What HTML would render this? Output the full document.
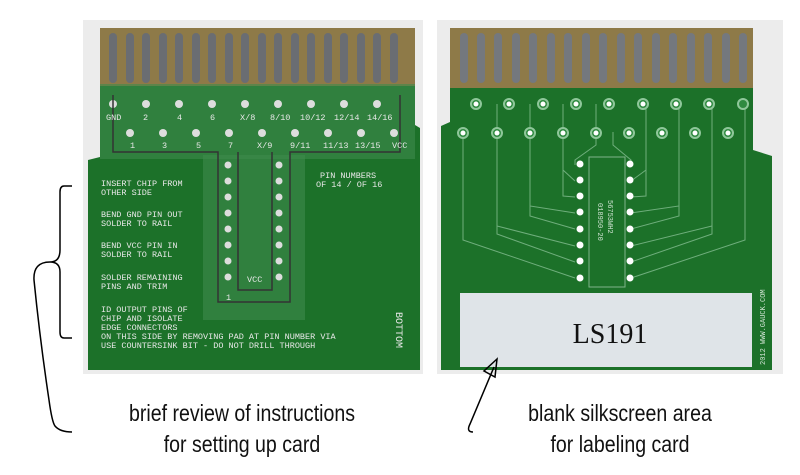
<!DOCTYPE html>
<html><head><style>
body{margin:0;width:800px;height:475px;background:#fff;position:relative;overflow:hidden;font-family:"Liberation Sans",sans-serif}
.t{position:absolute;color:#111;font-size:23px;text-align:center;transform:scaleX(0.85);transform-origin:center}
</style></head><body>
<svg width="800" height="475" style="position:absolute;left:0;top:0" font-family="Liberation Mono, monospace">
<rect x="83" y="20" width="340" height="354" fill="#ececec"/>
<rect x="437" y="20" width="346" height="354" fill="#ececec"/>
<!-- left board -->
<path d="M100 28 H415 V125 L420 128 V370 H88 V160 L100 157 Z" fill="#1c7129"/>
<rect x="100" y="28" width="315" height="58" fill="#8e7a48"/>
<rect x="100" y="84" width="315" height="75" fill="#3d8a4c" opacity="0.6"/>
<rect x="203" y="155" width="102" height="165" fill="#3d8a4c" opacity="0.6"/>
<g fill="#6a6d72">
<rect x="109" y="33" width="8" height="50" rx="4"/><rect x="126" y="33" width="8" height="50" rx="4"/><rect x="142" y="33" width="8" height="50" rx="4"/><rect x="159" y="33" width="8" height="50" rx="4"/><rect x="175" y="33" width="8" height="50" rx="4"/><rect x="192" y="33" width="8" height="50" rx="4"/><rect x="208" y="33" width="8" height="50" rx="4"/><rect x="225" y="33" width="8" height="50" rx="4"/><rect x="241" y="33" width="8" height="50" rx="4"/><rect x="258" y="33" width="8" height="50" rx="4"/><rect x="274" y="33" width="8" height="50" rx="4"/><rect x="291" y="33" width="8" height="50" rx="4"/><rect x="307" y="33" width="8" height="50" rx="4"/><rect x="324" y="33" width="8" height="50" rx="4"/><rect x="340" y="33" width="8" height="50" rx="4"/><rect x="357" y="33" width="8" height="50" rx="4"/><rect x="373" y="33" width="8" height="50" rx="4"/><rect x="390" y="33" width="8" height="50" rx="4"/>
</g>
<g fill="#ddd"><circle cx="113" cy="104" r="4"/><circle cx="146" cy="104" r="4"/><circle cx="179" cy="104" r="4"/><circle cx="212" cy="104" r="4"/><circle cx="245" cy="104" r="4"/><circle cx="278" cy="104" r="4"/><circle cx="311" cy="104" r="4"/><circle cx="344" cy="104" r="4"/><circle cx="377" cy="104" r="4"/>
<circle cx="130" cy="133" r="4"/><circle cx="163" cy="133" r="4"/><circle cx="196" cy="133" r="4"/><circle cx="229" cy="133" r="4"/><circle cx="262" cy="133" r="4"/><circle cx="295" cy="133" r="4"/><circle cx="328" cy="133" r="4"/><circle cx="361" cy="133" r="4"/><circle cx="394" cy="133" r="4"/>
<circle cx="228" cy="165" r="3.5"/><circle cx="228" cy="181" r="3.5"/><circle cx="228" cy="197" r="3.5"/><circle cx="228" cy="213" r="3.5"/><circle cx="228" cy="229" r="3.5"/><circle cx="228" cy="245" r="3.5"/><circle cx="228" cy="261" r="3.5"/><circle cx="228" cy="277" r="3.5"/>
<circle cx="279" cy="165" r="3.5"/><circle cx="279" cy="181" r="3.5"/><circle cx="279" cy="197" r="3.5"/><circle cx="279" cy="213" r="3.5"/><circle cx="279" cy="229" r="3.5"/><circle cx="279" cy="245" r="3.5"/><circle cx="279" cy="261" r="3.5"/><circle cx="279" cy="277" r="3.5"/></g>
<path d="M113 95 V152 H218 V302 H290 V152 H400 V95" fill="none" stroke="#333" stroke-width="1.5"/>
<path d="M238 152 V290 H272 V152" fill="none" stroke="#333" stroke-width="1.5"/>
<g fill="#e8e8e8" font-size="8.5">
<text x="106" y="120">GND</text><text x="143" y="120">2</text><text x="177" y="120">4</text><text x="210" y="120">6</text><text x="240" y="120">X/8</text><text x="270" y="120">8/10</text><text x="300" y="120">10/12</text><text x="334" y="120">12/14</text><text x="367" y="120">14/16</text>
<text x="130" y="148">1</text><text x="162" y="148">3</text><text x="196" y="148">5</text><text x="228" y="148">7</text><text x="257" y="148">X/9</text><text x="290" y="148">9/11</text><text x="323" y="148">11/13</text><text x="355" y="148">13/15</text><text x="392" y="148">VCC</text>
<text x="101" y="186">INSERT CHIP FROM</text><text x="101" y="195">OTHER SIDE</text>
<text x="101" y="217">BEND GND PIN OUT</text><text x="101" y="226">SOLDER TO RAIL</text>
<text x="101" y="248">BEND VCC PIN IN</text><text x="101" y="257">SOLDER TO RAIL</text>
<text x="101" y="280">SOLDER REMAINING</text><text x="101" y="289">PINS AND TRIM</text>
<text x="101" y="312">ID OUTPUT PINS OF</text><text x="101" y="321">CHIP AND ISOLATE</text><text x="101" y="330">EDGE CONNECTORS</text>
<text x="101" y="339">ON THIS SIDE BY REMOVING PAD AT PIN NUMBER VIA</text><text x="101" y="348">USE COUNTERSINK BIT - DO NOT DRILL THROUGH</text>
<text x="320" y="178">PIN NUMBERS</text><text x="316" y="187">OF 14 / OF 16</text>
<text x="247" y="282">VCC</text><text x="226" y="300">1</text>
<text transform="translate(396,312) rotate(90)" font-size="10">BOTTOM</text>
</g>
<!-- right board -->
<path d="M450 28 H753 V150 L772 156 V370 H441 V126 L450 122 Z" fill="#1c7129"/>
<rect x="450" y="28" width="303" height="60" fill="#8e7a48"/>
<g fill="#74787e">
<rect x="460" y="33" width="8" height="50" rx="4"/><rect x="477" y="33" width="8" height="50" rx="4"/><rect x="494" y="33" width="8" height="50" rx="4"/><rect x="512" y="33" width="8" height="50" rx="4"/><rect x="529" y="33" width="8" height="50" rx="4"/><rect x="547" y="33" width="8" height="50" rx="4"/><rect x="564" y="33" width="8" height="50" rx="4"/><rect x="582" y="33" width="8" height="50" rx="4"/><rect x="599" y="33" width="8" height="50" rx="4"/><rect x="617" y="33" width="8" height="50" rx="4"/><rect x="634" y="33" width="8" height="50" rx="4"/><rect x="652" y="33" width="8" height="50" rx="4"/><rect x="669" y="33" width="8" height="50" rx="4"/><rect x="687" y="33" width="8" height="50" rx="4"/><rect x="704" y="33" width="8" height="50" rx="4"/><rect x="722" y="33" width="8" height="50" rx="4"/><rect x="739" y="33" width="8" height="50" rx="4"/>
</g>
<rect x="589" y="157" width="36" height="130" fill="none" stroke="#7fb48a" stroke-width="1"/>
<g fill="none" stroke="#6fae7c" stroke-width="1">
<path d="M463 132 V240 L575 278"/><path d="M497 104 V234 L575 262"/><path d="M497 132 V226 L575 246"/><path d="M530 104 V216 L575 229"/><path d="M530 132 V206 L575 213"/><path d="M563 104 V196 L575 197"/><path d="M563 132 V170 L575 181"/><path d="M596 104 V145 L575 160 V165"/>
<path d="M745 104 V240 L631 278"/><path d="M712 132 V234 L631 262"/><path d="M712 104 V226 L631 246"/><path d="M679 132 V216 L631 229"/><path d="M679 104 V206 L631 213"/><path d="M646 132 V196 L631 197"/><path d="M646 104 V170 L631 181"/><path d="M613 132 V145 L631 160 V165"/>
</g>
<g fill="#2f8a40" stroke="#8fc79a" stroke-width="2"><circle cx="476" cy="104" r="5"/><circle cx="509" cy="104" r="5"/><circle cx="543" cy="104" r="5"/><circle cx="576" cy="104" r="5"/><circle cx="609" cy="104" r="5"/><circle cx="643" cy="104" r="5"/><circle cx="676" cy="104" r="5"/><circle cx="709" cy="104" r="5"/><circle cx="743" cy="104" r="5"/>
<circle cx="463" cy="133" r="5"/><circle cx="497" cy="133" r="5"/><circle cx="530" cy="133" r="5"/><circle cx="563" cy="133" r="5"/><circle cx="596" cy="133" r="5"/><circle cx="629" cy="133" r="5"/><circle cx="662" cy="133" r="5"/><circle cx="695" cy="133" r="5"/><circle cx="728" cy="133" r="5"/></g>
<g fill="#fff"><circle cx="476" cy="104" r="2.5"/><circle cx="509" cy="104" r="2.5"/><circle cx="543" cy="104" r="2.5"/><circle cx="576" cy="104" r="2.5"/><circle cx="609" cy="104" r="2.5"/><circle cx="643" cy="104" r="2.5"/><circle cx="676" cy="104" r="2.5"/><circle cx="709" cy="104" r="2.5"/>
<circle cx="463" cy="133" r="2.5"/><circle cx="497" cy="133" r="2.5"/><circle cx="530" cy="133" r="2.5"/><circle cx="563" cy="133" r="2.5"/><circle cx="596" cy="133" r="2.5"/><circle cx="629" cy="133" r="2.5"/><circle cx="662" cy="133" r="2.5"/><circle cx="695" cy="133" r="2.5"/><circle cx="728" cy="133" r="2.5"/>
<circle cx="580" cy="164" r="3.5"/><circle cx="580" cy="180" r="3.5"/><circle cx="580" cy="196" r="3.5"/><circle cx="580" cy="212" r="3.5"/><circle cx="580" cy="229" r="3.5"/><circle cx="580" cy="245" r="3.5"/><circle cx="580" cy="261" r="3.5"/><circle cx="580" cy="278" r="3.5"/>
<circle cx="630" cy="164" r="3.5"/><circle cx="630" cy="180" r="3.5"/><circle cx="630" cy="196" r="3.5"/><circle cx="630" cy="212" r="3.5"/><circle cx="630" cy="229" r="3.5"/><circle cx="630" cy="245" r="3.5"/><circle cx="630" cy="261" r="3.5"/><circle cx="630" cy="278" r="3.5"/></g>
<g fill="#cfe3d2" font-size="7"><text transform="translate(608,200) rotate(90)">56753WH2</text><text transform="translate(598,203) rotate(90)">018950-20</text>
<text transform="translate(765,365) rotate(-90)">2012 WWW.GAUCK.COM</text></g>
<rect x="460" y="293" width="292" height="74" fill="#dfe4e8"/>
<text x="610" y="343" font-family="Liberation Serif, serif" font-size="28" fill="#111" text-anchor="middle">LS191</text>
<!-- annotations -->
<path d="M72 186 H64 Q60 186 60 192 V250 Q60 262 50 262 Q60 262 60 272 V332 Q60 338 64 338 H72" fill="none" stroke="#000" stroke-width="1.5"/>
<path d="M50 262 Q33 262 34 280 Q40 340 49 400 Q52 422 55 426 Q60 432 72 432" fill="none" stroke="#000" stroke-width="1.5"/>
<path d="M473 432 Q466 432 470 424 L494 367" fill="none" stroke="#000" stroke-width="1.5"/>
<path d="M497 359 L484 371 L495 377 Z" fill="none" stroke="#000" stroke-width="1.5"/>
</svg>
<div class="t" style="left:62px;top:398px;width:360px;line-height:31px">brief review of instructions<br>for setting up card</div>
<div class="t" style="left:460px;top:398px;width:320px;line-height:31px">blank silkscreen area<br>for labeling card</div>
</body></html>
